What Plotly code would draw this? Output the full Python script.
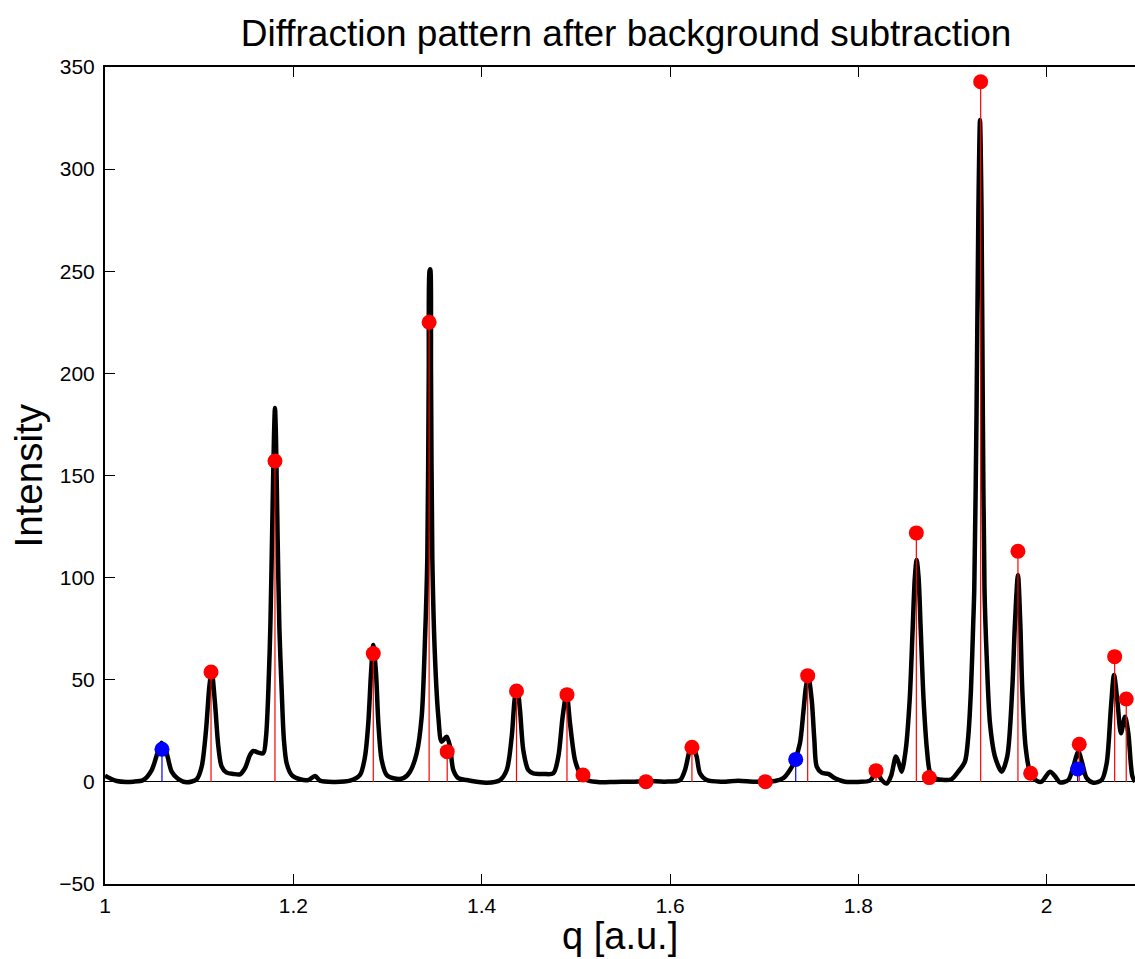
import plotly.graph_objects as go

# Background-subtracted diffraction profile (q, intensity)
q_profile = [
    1.0000, 1.0124, 1.0301, 1.0407, 1.0496, 1.0556, 1.0602, 1.0655, 1.0708, 1.0779,
    1.0867, 1.0974, 1.1027, 1.1073, 1.1108, 1.1133, 1.1168, 1.1204, 1.1239, 1.1292,
    1.1363, 1.1434, 1.1487, 1.1540, 1.1575, 1.1628, 1.1681, 1.1710, 1.1735, 1.1757,
    1.1778, 1.1795, 1.1805, 1.1815, 1.1833, 1.1852, 1.1876, 1.1900, 1.1929, 1.1982,
    1.2071, 1.2159, 1.2230, 1.2283, 1.2425, 1.2602, 1.2708, 1.2761, 1.2796, 1.2825,
    1.2849, 1.2878, 1.2903, 1.2938, 1.2991, 1.3062, 1.3168, 1.3239, 1.3310, 1.3363,
    1.3398, 1.3423, 1.3438, 1.3446, 1.3454, 1.3462, 1.3476, 1.3504, 1.3540, 1.3575,
    1.3628, 1.3664, 1.3699, 1.3752, 1.3841, 1.3947, 1.4053, 1.4195, 1.4266, 1.4319,
    1.4354, 1.4379, 1.4407, 1.4442, 1.4495, 1.4548, 1.4654, 1.4761, 1.4814, 1.4860,
    1.4902, 1.4938, 1.4991, 1.5044, 1.5115, 1.5256, 1.5416, 1.5593, 1.5769, 1.5947,
    1.6106, 1.6159, 1.6201, 1.6237, 1.6283, 1.6318, 1.6389, 1.6549, 1.6725, 1.6902,
    1.7115, 1.7203, 1.7274, 1.7327, 1.7380, 1.7415, 1.7444, 1.7469, 1.7505, 1.7533,
    1.7558, 1.7611, 1.7681, 1.7752, 1.7858, 1.7999, 1.8124, 1.8194, 1.8248, 1.8301,
    1.8347, 1.8399, 1.8430, 1.8460, 1.8503, 1.8545, 1.8577, 1.8600, 1.8619, 1.8640,
    1.8662, 1.8693, 1.8729, 1.8760, 1.8813, 1.8920, 1.8990, 1.9061, 1.9132, 1.9167,
    1.9196, 1.9220, 1.9231, 1.9255, 1.9275, 1.9292, 1.9308, 1.9322, 1.9340, 1.9363,
    1.9398, 1.9451, 1.9522, 1.9581, 1.9634, 1.9663, 1.9695, 1.9720, 1.9741, 1.9776,
    1.9822, 1.9892, 1.9945, 2.0035, 2.0088, 2.0141, 2.0229, 2.0283, 2.0336, 2.0378,
    2.0425, 2.0495, 2.0584, 2.0637, 2.0683, 2.0715, 2.0750, 2.0789, 2.0832, 2.0867,
    2.0910, 2.0940,
]
intensity = [
    3.0, 0.4, 0.1, 0.9, 5.8, 14.0, 19.2, 14.0, 5.0, 1.3,
    -0.2, 1.3, 7.5, 25.4, 46.6, 54.0, 38.5, 17.2, 7.5, 4.5,
    3.9, 3.7, 6.7, 13.2, 15.1, 14.3, 14.0, 22.1, 45.0, 78.0,
    130.0, 170.0, 183.0, 170.0, 120.0, 75.0, 45.0, 20.5, 9.1, 3.4,
    1.3, 0.9, 2.9, 0.6, 0.0, 0.6, 3.4, 12.4, 28.7, 53.2,
    67.0, 53.2, 28.7, 10.7, 3.4, 1.8, 1.8, 5.0, 14.0, 31.9,
    69.5, 110.0, 200.0, 250.0, 251.0, 200.0, 110.0, 61.3, 31.9, 19.7,
    22.1, 17.2, 5.8, 1.8, 0.9, 0.1, -0.4, 0.9, 5.8, 22.1,
    41.7, 45.5, 35.2, 15.6, 5.8, 4.2, 3.9, 4.2, 12.4, 31.9,
    43.5, 28.7, 10.7, 4.2, 0.9, -0.2, 0.0, 0.1, 0.4, 0.1,
    0.9, 5.8, 14.0, 18.0, 12.4, 4.2, 0.9, 0.1, 0.6, 0.1,
    0.4, 1.8, 5.8, 10.7, 18.9, 33.6, 46.6, 51.5, 40.1, 20.5,
    7.5, 4.5, 3.9, 1.8, 0.1, 0.0, 0.6, 5.0, 0.9, -0.8,
    2.8, 12.4, 9.1, 5.0, 15.6, 40.0, 75.0, 100.0, 108.6, 100.0,
    75.0, 40.0, 15.6, 5.0, 1.8, 0.9, 1.3, 5.0, 9.9, 22.1,
    45.0, 77.6, 94.0, 180.0, 280.0, 324.0, 280.0, 180.0, 94.0, 61.3,
    28.7, 12.4, 5.0, 12.4, 45.0, 77.6, 101.3, 77.6, 45.0, 17.2,
    5.0, 0.6, 0.1, 5.0, 2.8, -0.2, 0.9, 7.5, 14.8, 9.1,
    1.8, -0.4, 0.9, 9.1, 36.8, 52.3, 40.1, 23.8, 31.9, 23.8,
    2.8, 0.0,
]

# Indexed reflections (red)
q_red = [1.1126, 1.1805, 1.2849, 1.3442, 1.3634, 1.4370, 1.4906, 1.5076, 1.5745, 1.6233,
         1.7012, 1.7462, 1.8188, 1.8616, 1.8753, 1.9299, 1.9695, 1.9830, 2.0346, 2.0722,
         2.0845]
h_red = [53.8, 157.1, 62.8, 225.0, 14.8, 44.5, 42.7, 3.4, 0.1, 16.9,
         0.1, 52.0, 5.5, 121.9, 2.1, 342.8, 112.9, 4.2, 18.4, 61.3,
         40.6]

# Secondary-phase reflections (blue)
q_blue = [1.0605, 1.7335, 2.0329]
h_blue = [16.0, 11.0, 6.3]

x_ticks = [1, 1.2, 1.4, 1.6, 1.8, 2]
x_tick_text = ["1", "1.2", "1.4", "1.6", "1.8", "2"]
y_ticks = [-50, 0, 50, 100, 150, 200, 250, 300, 350]
y_tick_text = ["\u221250", "0", "50", "100", "150", "200", "250", "300", "350"]


def stem_segments(qs, hs):
    xs, ys = [], []
    for q, h in zip(qs, hs):
        xs += [q, q, None]
        ys += [0, h, None]
    return xs, ys


FONT = "Liberation Sans, Arial, Helvetica, sans-serif"

fig = go.Figure()

fig.add_trace(go.Scatter(
    x=q_profile, y=intensity, mode="lines",
    line=dict(color="black", width=4.5, shape="spline", smoothing=0.8),
    hoverinfo="skip",
))

rx, ry = stem_segments(q_red, h_red)
fig.add_trace(go.Scatter(x=rx, y=ry, mode="lines",
                         line=dict(color="#ff0000", width=1.2), hoverinfo="skip"))
fig.add_trace(go.Scatter(x=q_red, y=h_red, mode="markers",
                         marker=dict(color="#ff0000", size=15, line=dict(width=0))))

bx, by = stem_segments(q_blue, h_blue)
fig.add_trace(go.Scatter(x=bx, y=by, mode="lines",
                         line=dict(color="#0000ff", width=1.2), hoverinfo="skip"))
fig.add_trace(go.Scatter(x=q_blue, y=h_blue, mode="markers",
                         marker=dict(color="#0000ff", size=15, line=dict(width=0))))

fig.update_layout(
    width=1135, height=959,
    margin=dict(l=105, r=0, t=67, b=75),
    paper_bgcolor="white", plot_bgcolor="white",
    showlegend=False,
    font=dict(family=FONT, color="black", size=21),
    title=dict(
        text="Diffraction pattern after background subtraction",
        x=626 / 1135, xanchor="center", xref="container",
        y=1 - 33 / 959, yanchor="middle", yref="container",
        font=dict(family=FONT, size=37, color="black"),
    ),
    xaxis=dict(
        range=[1, 2.0938], tickmode="array", tickvals=x_ticks, ticktext=x_tick_text,
        ticks="inside", ticklen=10, tickwidth=1, tickcolor="black",
        showline=True, linecolor="black", linewidth=2, mirror="ticks",
        showgrid=False, zeroline=False, ticklabelstandoff=2,
        tickfont=dict(family=FONT, size=21, color="black"),
    ),
    yaxis=dict(
        range=[-50, 350], tickmode="array", tickvals=y_ticks, ticktext=y_tick_text,
        ticks="inside", ticklen=10, tickwidth=1, tickcolor="black",
        showline=True, linecolor="black", linewidth=2,
        showgrid=False, zeroline=True, zerolinecolor="black", zerolinewidth=1,
        ticklabelstandoff=4,
        tickfont=dict(family=FONT, size=21, color="black"),
    ),
    annotations=[
        dict(text="q [a.u.]", xref="paper", yref="paper", x=0.5, y=0,
             xanchor="center", yanchor="middle", yshift=-52, showarrow=False,
             font=dict(family=FONT, size=38, color="black")),
        dict(text="Intensity", xref="paper", yref="paper", x=0, y=0.5,
             xanchor="center", yanchor="middle", xshift=-77, textangle=-90,
             showarrow=False, font=dict(family=FONT, size=38.5, color="black")),
    ],
)

fig.write_html("out.html")
